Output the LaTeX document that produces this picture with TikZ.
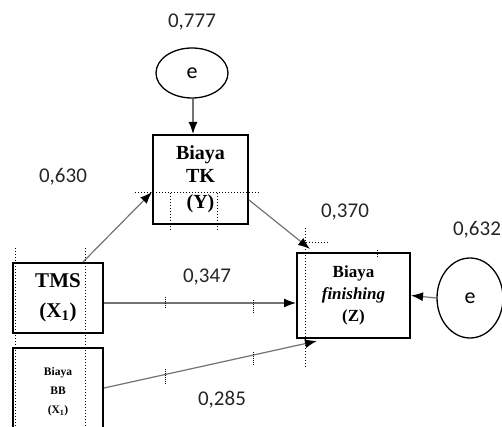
\documentclass[tikz,border=0pt]{standalone}
\usepackage{fontspec}
\setmainfont{Liberation Serif}
\newfontfamily\calfont{Carlito}
\usetikzlibrary{arrows.meta,shapes.geometric}
\tikzset{
  var/.style={draw,line width=2pt,align=center,inner sep=0pt},
  err/.style={draw,ellipse,line width=1.3pt,inner sep=0pt,font=\calfont\fontsize{22}{24}\selectfont},
  coef/.style={font=\calfont\fontsize{21}{24}\selectfont,text=black!85},
  path/.style={draw=black!55,line width=1.2pt,-{Latex[length=12pt,width=9pt,color=black]}},
  guide/.style={dotted,line width=1pt},
  tick/.style={densely dotted,line width=1pt}
}
\begin{document}
\begin{tikzpicture}[x=1pt,y=-1pt]
  \useasboundingbox (0,0) rectangle (502,427);

  \node[err,minimum width=72pt,minimum height=50pt] (e1) at (192,73) {e};
  \node[err,minimum width=66pt,minimum height=80pt] (e2) at (470,298) {e};
  \node[var,minimum width=95pt,minimum height=89pt,
        font=\bfseries\fontsize{20}{23}\selectfont] (Y) at (200.5,179.5) {Biaya\\TK\\[3pt](Y)};
  \node[var,minimum width=90pt,minimum height=70pt,
        font=\bfseries\fontsize{21}{30}\selectfont] (TMS) at (58,298) {TMS\\(X\textsubscript{1})};
  \node[var,minimum width=90pt,minimum height=88pt,
        font=\bfseries\fontsize{11.5}{19}\selectfont] (BB) at (58,392) {Biaya\\BB\\(X\textsubscript{1})};
  \node[var,minimum width=113pt,minimum height=85pt,
        font=\bfseries\fontsize{17}{22}\selectfont] (Z) at (353.5,295.5) {Biaya\\\textit{finishing}\\(Z)};

  \node[coef] (c1) at (192,22) {0,777};
  \node[coef] (c2) at (63,177) {0,630};
  \node[coef] (c3) at (345,212) {0,370};
  \node[coef] (c4) at (477,230) {0,632};
  \node[coef] (c5) at (207,277) {0,347};
  \node[coef] (c6) at (222,400) {0,285};

  \draw[path] ([xshift=1pt]e1.south) -- ([xshift=1pt]e1.south |- Y.north);
  \draw[path] ([xshift=-21pt]TMS.north east) -- ([yshift=-12.5pt]Y.west);
  \draw[path] ([yshift=-20.5pt]Y.east) -- ([xshift=14pt,yshift=3pt]Z.north west);
  \draw[path] ([yshift=-5pt]TMS.east) -- ([yshift=-5pt]TMS.east -| Z.west);
  \draw[path] ([yshift=4pt]BB.east) -- ([xshift=21pt,yshift=-2pt]Z.south west);
  \draw[path] (e2.west) -- (Z.east);

  \draw[guide] (135,193) -- (260,193);
  \draw[guide] (170,193) -- (170,230);
  \draw[guide] (217,193) -- (217,230);
  \draw[guide] (15,248) -- (15,427);
  \draw[guide] (85,248) -- (85,427);
  \draw[guide] (305,228) -- (305,367);
  \draw[guide] (303,242) -- (328,242);
  \draw[tick] (377,250) -- (377,258);
  \draw[tick] (165,297) -- (165,308);
  \draw[tick] (253,300) -- (253,313);
  \draw[tick] (165,369) -- (165,385);
  \draw[tick] (253,352) -- (253,365);
\end{tikzpicture}
\end{document}
